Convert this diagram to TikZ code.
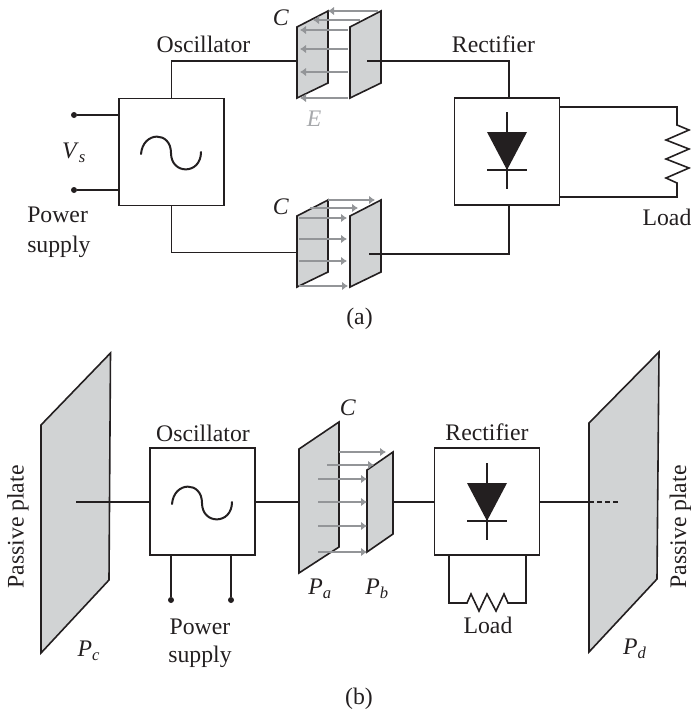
\documentclass[tikz,border=0pt]{standalone}
\usepackage{fontspec}
\setmainfont{Liberation Serif}
\usepackage{tikz}
\usetikzlibrary{arrows}
\usetikzlibrary{arrows.meta}

\definecolor{inkblack}{HTML}{231F20}
\definecolor{platefill}{HTML}{D1D3D4}
\definecolor{fieldgray}{HTML}{939598}
\definecolor{labelgray}{HTML}{A7A9AC}

\newcommand{\platename}[2]{\textit{#1}\textsubscript{\textit{#2}}}

\tikzset{
	wire/.style={line width=1.2pt, inkblack, line join=miter},
	plate/.style={line width=1.2pt, draw=inkblack, fill=platefill, line join=miter},
	field/.style={line width=1pt, fieldgray, arrows={-Latex[length=4.5pt,width=6.5pt]}},
	blockbox/.style={draw=inkblack, line width=1.2pt, fill=white, minimum width=78.75pt, minimum height=80pt, inner sep=0pt, outer sep=0pt},
	termdot/.style={circle, fill=inkblack, minimum size=4.5pt, inner sep=0pt, outer sep=0pt},
	txt/.style={inner sep=0pt, text=inkblack},
	sinewave/.pic={
		\draw[line width=1.5pt, inkblack, line cap=round] (-30,1) .. controls (-28,-22) and (0,-22) .. (0,0) .. controls (0,22) and (30,22) .. (30,-1);
	},
	diode/.pic={
		\fill[inkblack] (-20,-19) -- (20,-19) -- (0,19) -- cycle;
		\draw[line width=1pt, inkblack] (0,-39) -- (0,38);
		\draw[line width=1pt, inkblack] (-20,19) -- (20,19);
	}
}

\begin{document}
\begin{tikzpicture}[x=0.75pt,y=-0.75pt,font=\fontsize{17.8}{21}\selectfont]
			\useasboundingbox (0,0) rectangle (690,711);

			% part (a): plates
			\draw[plate] (297,27) -- (328,11) -- (328,83) -- (297,98) -- cycle;
			\draw[plate] (350,27) -- (381,11) -- (381,83) -- (350,98) -- cycle;
			\draw[plate] (297,216) -- (328,200) -- (328,272) -- (297,287) -- cycle;
			\draw[plate] (350,216) -- (381,200) -- (381,272) -- (350,287) -- cycle;

			% part (a): blocks
			\node[blockbox] (oscA) at (171.5,152) {};
			\node[blockbox] (rectA) at (507,151.5) {};
			\pic at (171,153) {sinewave};
			\pic at (507,151) {diode};

			% part (a): wire ends
			\coordinate (plateAtl) at (297,61);
			\coordinate (plateAtr) at (367,61);
			\coordinate (plateAbl) at (297,252.5);
			\coordinate (plateAbr) at (369,254);
			\coordinate (loadAt) at (677,107);
			\coordinate (loadAb) at (677,197);

			% part (a): wires
			\draw[wire] (oscA.north) |- (plateAtl);
			\draw[wire] (oscA.south) |- (plateAbl);
			\draw[wire] (plateAtr) -| ([xshift=1.5pt]rectA.north);
			\draw[wire] (plateAbr) -| ([xshift=1.5pt]rectA.south);
			\node[termdot] (dotAa) at (74,115) {};
			\node[termdot] (dotAb) at (74,190) {};
			\draw[wire] (dotAa) -- (dotAa -| oscA.west);
			\draw[wire] (dotAb) -- (dotAb -| oscA.west);

			% part (a): load
			\draw[wire] (loadAt -| rectA.east) -- (loadAt) -- (677,125) -- (689,130) -- (666,140) -- (689,149) -- (666,159) -- (689,168) -- (666,178) -- (677,183) -- (loadAb) -- (loadAb -| rectA.east);

			% part (a): field arrows
			\draw[field] (378,11) -- (328,11);
			\draw[field] (360,20) -- (313,20);
			\draw[field] (348,30) -- (300,30);
			\draw[field] (348,49) -- (300,49);
			\draw[field] (348,72) -- (300,72);
			\draw[field] (348,98) -- (300,98);
			\draw[field] (328,200) -- (375,200);
			\draw[field] (310,208) -- (358,208);
			\draw[field] (299,218) -- (347,218);
			\draw[field] (299,239) -- (347,239);
			\draw[field] (299,261) -- (347,261);
			\draw[field] (299,286) -- (348,286);

			% part (a): labels
			\node[txt] (oscAlabel) at (203.5,44) {Oscillator};
			\node[txt] (rectAlabel) at (493.5,44) {Rectifier};
			\node[txt] (capAa) at (281,18) {\textit{C}};
			\node[txt] (capAb) at (281,207) {\textit{C}};
			\node[txt, text=labelgray] (efield) at (314,119) {\textit{E}};
			\node[txt] (vsource) at (74,153) {\platename{V}{s}};
			\node[txt, anchor=west] (powerA) at (27,215) {Power};
			\node[txt, anchor=west] (supplyA) at (27,246.5) {supply};
			\node[txt] (loadAlabel) at (667,217) {Load};
			\node[txt] (capa) at (359.5,319) {(a)};

			% part (b): plates
			\draw[plate] (41,425) -- (110.5,353) -- (109,580) -- (41,653) -- cycle;
			\draw[plate] (589,423) -- (659,352) -- (657,579) -- (589,652) -- cycle;
			\draw[plate] (299,449) -- (339,422) -- (339,547) -- (299,573) -- cycle;
			\draw[plate] (367,470) -- (393,452) -- (393,534) -- (367,552) -- cycle;

			% part (b): blocks
			\node[blockbox] (oscB) at (202.5,501.5) {};
			\node[blockbox] (rectB) at (487,501.5) {};
			\pic at (202,503) {sinewave};
			\pic at (487,502) {diode};

			% part (b): wire ends
			\coordinate (plateCw) at (76,502);
			\coordinate (plateAw) at (299,502);
			\coordinate (plateBw) at (393,502);
			\coordinate (plateDw) at (589,502);
			\coordinate (plateDend) at (620,502);

			% part (b): wires
			\draw[wire] (plateCw) -- (oscB.west |- plateCw);
			\draw[wire] (oscB.east |- plateAw) -- (plateAw);
			\draw[wire] (plateBw) -- (rectB.west |- plateBw);
			\draw[wire] (rectB.east |- plateDw) -- (plateDw);
			\draw[wire, line width=1pt, dash pattern=on 3.4pt off 2.6pt] (plateDw) -- (plateDend);
			\node[termdot] (dotBa) at (171,600) {};
			\node[termdot] (dotBb) at (231,600) {};
			\draw[wire] (dotBa) -- (dotBa |- oscB.south);
			\draw[wire] (dotBb) -- (dotBb |- oscB.south);

			% part (b): load
			\draw[wire] (449,555) -- (449,603) -- (467,603) -- (471,594) -- (479,611) -- (487,594) -- (496,611) -- (504,594) -- (508,603) -- (526,603) -- (526,555);

			% part (b): field arrows
			\draw[field] (339,452) -- (386,452);
			\draw[field] (327,465) -- (374,465);
			\draw[field] (318,479) -- (367,479);
			\draw[field] (318,502) -- (367,502);
			\draw[field] (318,526) -- (367,526);
			\draw[field] (318,552) -- (367,552);

			% part (b): labels
			\node[txt] (oscBlabel) at (203,433) {Oscillator};
			\node[txt] (rectBlabel) at (487,432) {Rectifier};
			\node[txt] (capBc) at (348,408) {\textit{C}};
			\node[txt] (namePa) at (320,589) {\platename{P}{a}};
			\node[txt] (namePb) at (377,589) {\platename{P}{b}};
			\node[txt] (namePc) at (89,651) {\platename{P}{c}};
			\node[txt] (namePd) at (635,649) {\platename{P}{d}};
			\node[txt] (powerB) at (200,627) {Power};
			\node[txt] (supplyB) at (200,657) {supply};
			\node[txt] (loadBlabel) at (488,625) {Load};
			\node[txt, rotate=90] (passiveL) at (18,527) {Passive plate};
			\node[txt, rotate=90] (passiveR) at (680.5,527) {Passive plate};
			\node[txt] (capb) at (359,699) {(b)};

\end{tikzpicture}
\end{document}
